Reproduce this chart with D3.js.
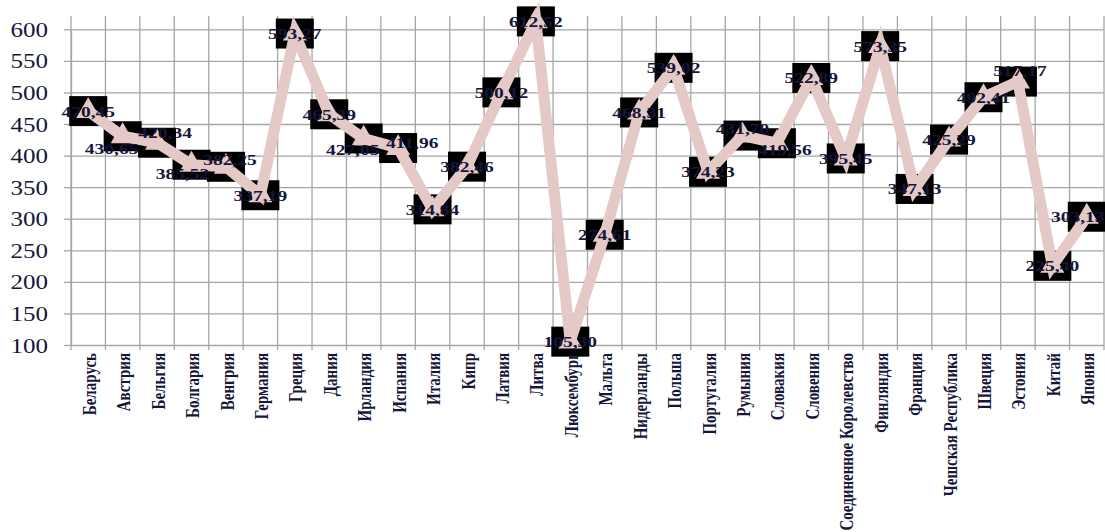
<!DOCTYPE html>
<html>
<head>
<meta charset="utf-8">
<script src="https://cdn.jsdelivr.net/npm/d3@7"></script>
<style>
  html, body { margin: 0; padding: 0; background: #ffffff; }
  svg { display: block; }
</style>
</head>
<body>
<svg id="chart" width="1105" height="532"></svg>
<script>
// Countries along the category axis
const categories = [
  "Беларусь", "Австрия", "Бельгия", "Болгария", "Венгрия", "Германия",
  "Греция", "Дания", "Ирландия", "Испания", "Италия", "Кипр", "Латвия",
  "Литва", "Люксембург", "Мальта", "Нидерланды", "Польша", "Португалия",
  "Румыния", "Словакия", "Словения", "Соединенное Королевство", "Финляндия",
  "Франция", "Чешская Республика", "Швеция", "Эстония", "Китай", "Япония"
];

// One value per country
const values = [
  470.45, 430.65, 420.34, 385.52, 382.25, 337.19,
  593.27, 465.39, 427.05, 411.96, 314.84, 382.46, 500.12,
  612.52, 105.30, 274.61, 468.31, 539.02, 374.23,
  431.70, 419.56, 522.89, 395.45, 573.35,
  347.13, 425.29, 492.41, 517.17, 225.40, 303.13
];

// Value axis ticks
const yTicks = [100, 150, 200, 250, 300, 350, 400, 450, 500, 550, 600];

// Small nudges for data labels that sit beside their marker
const labelNudge = {
  "Австрия": [-11, 12], "Бельгия": [8, -10], "Болгария": [-9, 9],
  "Венгрия": [4, -7], "Ирландия": [-11, 11], "Испания": [14, -6],
  "Румыния": [0, -7], "Словакия": [8, 6], "Эстония": [2, -11],
  "Япония": [-9, 0]
};

const svg = d3.select("#chart");
const plotLeft = 71, plotRight = 1104, plotTop = 29.3, plotBottom = 345;
const gridColor = "#a6a6a6";
const textColor = "#16163a";
const lineColor = "#e4c9c7";
const stretch = 1.25;

const x = d3.scaleBand().domain(categories).range([plotLeft, plotRight]);
const y = d3.scaleLinear().domain([100, 600]).range([plotBottom, plotTop]);
const bw = x.bandwidth();
const cx = c => x(c) + bw / 2;

// Vertical grid lines at category boundaries
const bounds = categories.map(c => x(c)).concat([plotRight]);
svg.append("g").selectAll("line").data(bounds).join("line")
  .attr("x1", d => d).attr("x2", d => d)
  .attr("y1", 16).attr("y2", plotBottom + 5)
  .attr("stroke", gridColor).attr("stroke-width", 1.3);

// Value axis with horizontal grid lines
const yAxis = svg.append("g")
  .attr("transform", `translate(${plotLeft},0)`)
  .call(d3.axisLeft(y).tickValues(yTicks).tickSize(7).tickSizeOuter(0).tickFormat(d3.format("d")));
yAxis.select(".domain").attr("stroke", gridColor).attr("stroke-width", 1.3);
yAxis.selectAll(".tick line").clone()
  .attr("x1", 0).attr("x2", plotRight - plotLeft);
yAxis.selectAll(".tick line").attr("stroke", gridColor).attr("stroke-width", 1.3);
yAxis.selectAll(".tick text")
  .attr("x", null).attr("dy", null)
  .attr("transform", `translate(-23,7) scale(${stretch},1)`)
  .attr("text-anchor", "end")
  .attr("fill", textColor)
  .style("font-family", "'Liberation Serif', 'Times New Roman', serif")
  .style("font-size", "20px");

// Category labels, rotated
svg.append("g").selectAll("text").data(categories).join("text")
  .attr("transform", d => `translate(${cx(d) + 1},353) scale(${stretch},1) rotate(-90)`)
  .attr("text-anchor", "end")
  .attr("dy", "0.35em")
  .attr("fill", textColor)
  .style("font-family", "'Liberation Serif', 'Times New Roman', serif")
  .style("font-weight", "bold")
  .style("font-size", "15px")
  .text(d => d);

const pts = categories.map((c, i) => ({ c, v: values[i] }));

// Black square markers
svg.append("g").selectAll("rect").data(pts).join("rect")
  .attr("x", d => cx(d.c) - 19).attr("y", d => y(d.v) - 15)
  .attr("width", 38).attr("height", 30)
  .attr("fill", "#000000");

// Connecting line
svg.append("path").datum(pts)
  .attr("d", d3.line().x(d => cx(d.c)).y(d => y(d.v)))
  .attr("fill", "none")
  .attr("stroke", lineColor)
  .attr("stroke-width", 11)
  .attr("stroke-linejoin", "miter");

// Triangle markers
svg.append("g").selectAll("path").data(pts).join("path")
  .attr("d", d3.symbol(d3.symbolTriangle, 250))
  .attr("transform", d => `translate(${cx(d.c)},${y(d.v)})`)
  .attr("fill", lineColor);

// Value labels
const fmt = v => d3.format(".2f")(v).replace(".", ",");
svg.append("g").selectAll("text").data(pts).join("text")
  .attr("transform", d => {
    const n = labelNudge[d.c] || [0, 0];
    return `translate(${cx(d.c) + n[0]},${y(d.v) + n[1] + 5.5}) scale(1.3,1)`;
  })
  .attr("text-anchor", "middle")
  .attr("fill", textColor)
  .style("font-family", "'Liberation Serif', 'Times New Roman', serif")
  .style("font-weight", "bold")
  .style("font-size", "15px")
  .text(d => fmt(d.v));
</script>
</body>
</html>
